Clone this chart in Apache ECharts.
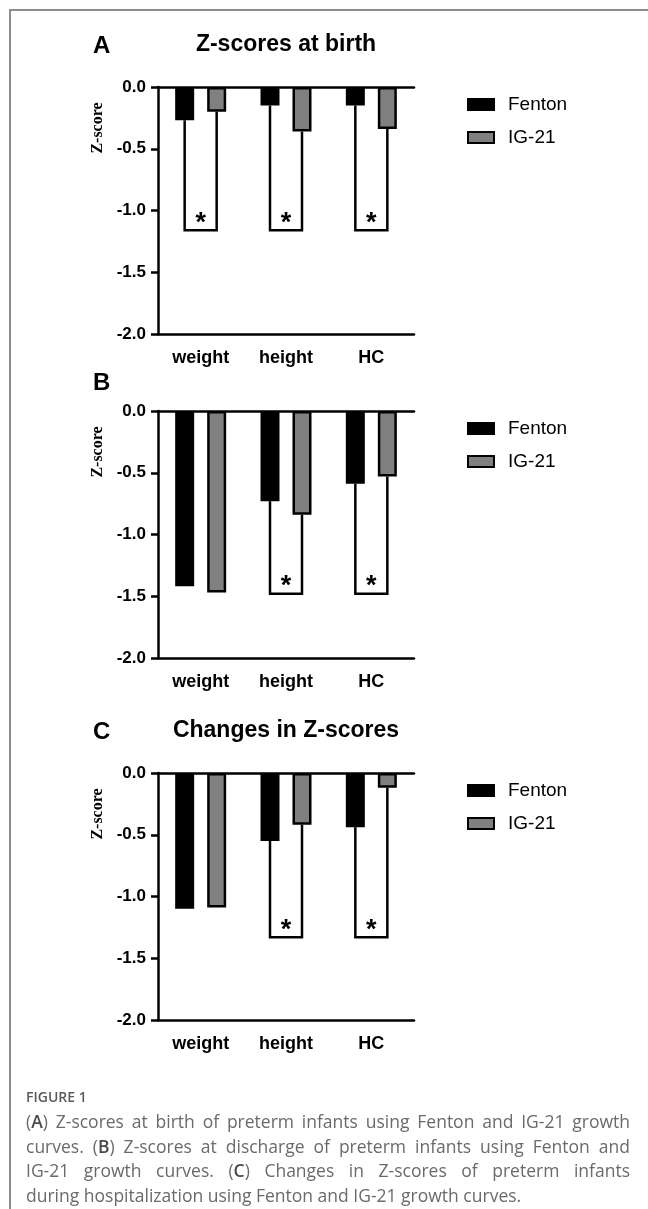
<!DOCTYPE html>
<html>
<head>
<meta charset="utf-8">
<script src="https://cdn.jsdelivr.net/npm/echarts@6/dist/echarts.min.js"></script>
<style>
  html, body { margin:0; padding:0; background:#fff; }
  #wrap { position:relative; width:648px; height:1209px; overflow:hidden; }
  #chart { position:absolute; left:0; top:0; width:648px; height:1209px; }
  #frame { position:absolute; left:9px; top:9px; width:660px; height:1300px; border-top:2px solid #8c8c8c; border-left:2px solid #8c8c8c; }
  #cap { position:absolute; left:26px; top:1087px; width:604px; font-family:'Open Sans', sans-serif; color:#6a6a6a; }
  #cap .fig { font-size:14px; font-weight:600; color:#5a5a5a; margin-bottom:3px; }
  #cap .ln { font-size:17.5px; line-height:24.5px; white-space:nowrap; }
  #cap .j { text-align:justify; text-align-last:justify; }
  #cap b { font-weight:600; color:#4a4a4a; }
</style>
</head>
<body>
<div id="wrap">
  <div id="frame"></div>
  <div id="chart"></div>
  <div id="cap">
    <div class="fig">FIGURE 1</div>
    <div class="ln j">(<b>A</b>) Z-scores at birth of preterm infants using Fenton and IG-21 growth</div>
    <div class="ln j">curves. (<b>B</b>) Z-scores at discharge of preterm infants using Fenton and</div>
    <div class="ln j">IG-21 growth curves. (<b>C</b>) Changes in Z-scores of preterm infants</div>
    <div class="ln">during hospitalization using Fenton and IG-21 growth curves.</div>
  </div>
</div>
<script>
// ---- data ----
const categories = ['weight', 'height', 'HC'];
const panelLetters = ['A', 'B', 'C'];
const panelTitles = ['Z-scores at birth', '', 'Changes in Z-scores'];
const seriesNames = ['Fenton', 'IG-21'];
const yTicks = [0, -0.5, -1.0, -1.5, -2.0];
const axisLabel = 'Z-score';

const fentonA = [-0.27, -0.15, -0.15];
const igA     = [-0.20, -0.36, -0.34];
const fentonB = [-1.42, -0.73, -0.59];
const igB     = [-1.47, -0.84, -0.53];
const fentonC = [-1.10, -0.55, -0.44];
const igC     = [-1.09, -0.42, -0.12];

// significance brackets: category index, bracket level
const sigA = [[0, -1.16], [1, -1.16], [2, -1.16]];
const sigB = [[1, -1.48], [2, -1.48]];
const sigC = [[1, -1.33], [2, -1.33]];

// ---- layout ----
const FONT = "'Liberation Sans', Arial, sans-serif";
const SERIF = "'Liberation Serif', 'Times New Roman', serif";
const GRID_LEFT = 158, GRID_W = 256, GRID_H = 247;
const gridTops = [87, 411, 773];
const BAR_W = 19, BAR_GAP_PX = 13;
const OFF = (BAR_W + BAR_GAP_PX) / 2;

const fentonData = [fentonA, fentonB, fentonC];
const igData = [igA, igB, igC];
const sigData = [sigA, sigB, sigC];

const grids = [], xAxes = [], yAxes = [], series = [], legends = [], graphics = [];

function makeRender(p) {
  return function (params, api) {
    const cat = api.value(0);
    const lv = api.value(1);
    const f = fentonData[p][cat], g = igData[p][cat];
    const c0 = api.coord([cat, 0]);
    const pf = api.coord([cat, f]);
    const pg = api.coord([cat, g]);
    const pl = api.coord([cat, lv]);
    const xl = c0[0] - OFF, xr = c0[0] + OFF;
    return {
      type: 'group',
      children: [
        { type: 'polyline', shape: { points: [[xl, pf[1]], [xl, pl[1]], [xr, pl[1]], [xr, pg[1]]] },
          style: { stroke: '#000', lineWidth: 2.5, fill: null } },
        { type: 'text', style: { text: '*', x: c0[0], y: pl[1] - 7, align: 'center', verticalAlign: 'middle',
          font: "bold 27px " + FONT, fill: '#000' } }
      ]
    };
  };
}

for (let p = 0; p < 3; p++) {
  const top = gridTops[p];
  grids.push({ left: GRID_LEFT, top: top, width: GRID_W, height: GRID_H });
  // bottom category axis
  xAxes.push({
    type: 'category', gridIndex: p, data: categories, position: 'bottom',
    axisLine: { onZero: false, lineStyle: { color: '#000', width: 2.5 } },
    axisTick: { alignWithLabel: true, length: 7, lineStyle: { color: '#000', width: 2.5 } },
    axisLabel: { color: '#000', fontFamily: FONT, fontWeight: 'bold', fontSize: 18, margin: 15 }
  });
  // zero line
  xAxes.push({
    type: 'category', gridIndex: p, data: categories, position: 'bottom',
    axisLine: { onZero: true, lineStyle: { color: '#000', width: 2.5 } },
    axisTick: { show: false }, axisLabel: { show: false }
  });
  yAxes.push({
    type: 'value', gridIndex: p, min: -2, max: 0, interval: 0.5,
    splitLine: { show: false },
    axisLine: { show: true, lineStyle: { color: '#000', width: 2.5 } },
    axisTick: { show: true, length: 7, lineStyle: { color: '#000', width: 2.5 } },
    axisLabel: { color: '#000', fontFamily: FONT, fontWeight: 'bold', fontSize: 17, margin: 12,
      formatter: v => v.toFixed(1) }
  });
  series.push({
    name: seriesNames[0], type: 'bar', xAxisIndex: p * 2, yAxisIndex: p,
    data: fentonData[p], barWidth: BAR_W, barGap: (BAR_GAP_PX / BAR_W * 100) + '%',
    itemStyle: { color: '#000', borderColor: '#000', borderWidth: 2.5 }, z: 3
  });
  series.push({
    name: seriesNames[1], type: 'bar', xAxisIndex: p * 2, yAxisIndex: p,
    data: igData[p], barWidth: BAR_W,
    itemStyle: { color: '#808080', borderColor: '#000', borderWidth: 2.5 }, z: 3
  });
  series.push({
    type: 'custom', xAxisIndex: p * 2, yAxisIndex: p, data: sigData[p],
    renderItem: makeRender(p), z: 2, silent: true
  });
  legends.push({
    data: seriesNames, orient: 'vertical', left: 462, top: top + 3,
    itemWidth: 26, itemHeight: 11, itemGap: 14, icon: 'rect',
    textStyle: { fontFamily: FONT, fontSize: 19, color: '#000', padding: [0, 0, 0, 9] },
    selectedMode: false
  });
  // letter
  graphics.push({ type: 'text', left: 93, top: top - (p === 1 ? 40 : 53),
    style: { text: panelLetters[p], font: 'bold 24px ' + FONT, fill: '#000' } });
  if (panelTitles[p]) {
    graphics.push({ type: 'text', x: GRID_LEFT + GRID_W / 2, y: top - 42,
      style: { text: panelTitles[p], font: 'bold 23px ' + FONT, fill: '#000', align: 'center', verticalAlign: 'middle' } });
  }
  graphics.push({ type: 'text', x: 98, y: top + 41, rotation: Math.PI / 2,
    style: { text: axisLabel, font: 'bold 16px ' + SERIF, fill: '#000', align: 'center', verticalAlign: 'middle' } });
}

const chart = echarts.init(document.getElementById('chart'), null, { renderer: 'canvas' });
chart.setOption({
  animation: false,
  backgroundColor: 'transparent',
  grid: grids, xAxis: xAxes, yAxis: yAxes, series: series, legend: legends,
  graphic: graphics
});
</script>
</body>
</html>
